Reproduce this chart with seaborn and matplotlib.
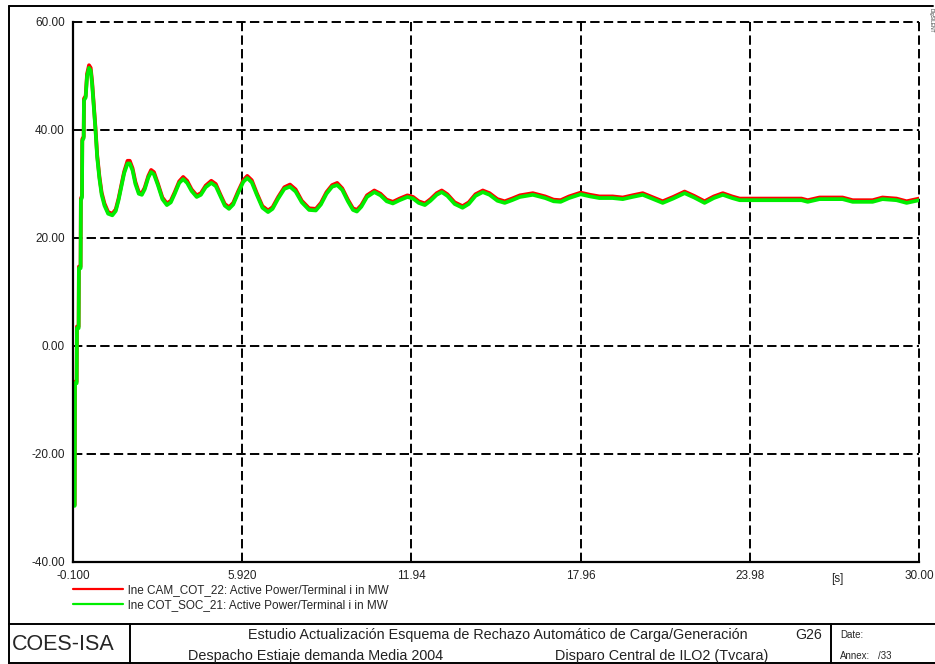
import matplotlib
matplotlib.use('Agg')
import matplotlib.pyplot as plt
from matplotlib.lines import Line2D
from matplotlib.ticker import FixedLocator
import seaborn as sns


# simulation time [s]
time_s = [
    -0.10, -0.04, -0.03, 0.03, 0.04, 0.10, 0.11, 0.17, 0.18, 0.22,
    0.23, 0.28, 0.29, 0.35, 0.40, 0.47, 0.53, 0.58, 0.63, 0.70,
    0.76, 0.84, 0.92, 1.02, 1.15, 1.30, 1.42, 1.52, 1.62, 1.72,
    1.84, 1.92, 2.02, 2.12, 2.24, 2.35, 2.45, 2.58, 2.68, 2.78,
    2.92, 3.08, 3.24, 3.38, 3.52, 3.68, 3.82, 3.96, 4.12, 4.30,
    4.45, 4.62, 4.82, 4.98, 5.14, 5.30, 5.45, 5.60, 5.78, 5.96,
    6.10, 6.26, 6.44, 6.64, 6.84, 7.00, 7.20, 7.42, 7.62, 7.82,
    8.04, 8.30, 8.54, 8.72, 8.92, 9.12, 9.30, 9.48, 9.68, 9.86,
    10.00, 10.16, 10.36, 10.62, 10.84, 11.06, 11.28, 11.52, 11.80, 12.00,
    12.20, 12.42, 12.62, 12.84, 13.02, 13.22, 13.48, 13.76, 13.98, 14.22,
    14.48, 14.72, 15.00, 15.26, 15.52, 15.80, 16.26, 16.70, 17.00, 17.25,
    17.55, 17.96, 18.30, 18.63, 19.10, 19.46, 19.80, 20.17, 20.50, 20.88,
    21.25, 21.66, 22.00, 22.37, 22.70, 23.02, 23.35, 23.62, 25.82, 26.04,
    26.46, 27.28, 27.64, 28.35, 28.70, 29.20, 29.56, 30.00,
]

# lne COT_SOC_21 active power [MW]
p_cot_soc = [
    -29.6, -29.6, -6.9, -6.9, 3.3, 3.3, 14.4, 14.4, 27.0, 27.5,
    38.0, 38.5, 45.5, 46.0, 50.0, 51.5, 51.0, 48.5, 45.0, 40.0,
    35.0, 31.0, 28.0, 26.0, 24.5, 24.2, 25.0, 27.0, 29.5, 32.0,
    33.8, 33.8, 32.5, 30.0, 28.2, 28.0, 29.0, 31.2, 32.2, 31.8,
    29.8, 27.2, 26.1, 26.6, 28.2, 30.2, 30.9, 30.2, 28.7, 27.6,
    28.0, 29.4, 30.2, 29.6, 27.8, 26.0, 25.4, 26.2, 28.4, 30.4,
    31.1, 30.3, 28.0, 25.6, 24.8, 25.4, 27.3, 29.1, 29.5, 28.6,
    26.6, 25.2, 25.1, 26.2, 28.2, 29.5, 29.8, 28.9, 26.8, 25.2,
    24.9, 25.8, 27.6, 28.5, 27.9, 26.8, 26.4, 27.0, 27.6, 27.3,
    26.5, 26.1, 26.9, 28.0, 28.5, 27.8, 26.3, 25.6, 26.3, 27.8,
    28.5, 28.0, 26.9, 26.5, 27.0, 27.6, 28.0, 27.4, 26.8, 26.7,
    27.4, 28.1, 27.7, 27.4, 27.4, 27.2, 27.6, 28.0, 27.3, 26.5,
    27.3, 28.3, 27.5, 26.5, 27.4, 28.0, 27.4, 27.0, 27.0, 26.7,
    27.2, 27.2, 26.7, 26.7, 27.2, 27.0, 26.5, 27.0,
]

# lne CAM_COT_22 active power [MW]
p_cam_cot = [
    -29.4, -29.4, -6.6, -6.6, 3.6, 3.6, 14.7, 14.7, 27.3, 27.8,
    38.3, 38.8, 45.8, 46.3, 50.4, 52.0, 51.5, 49.0, 45.4, 40.4,
    35.4, 31.4, 28.4, 26.4, 24.8, 24.5, 25.3, 27.3, 29.8, 32.3,
    34.3, 34.3, 32.9, 30.4, 28.5, 28.3, 29.3, 31.5, 32.6, 32.2,
    30.1, 27.5, 26.4, 26.9, 28.5, 30.5, 31.3, 30.6, 29.0, 27.9,
    28.3, 29.7, 30.6, 30.0, 28.1, 26.3, 25.7, 26.5, 28.7, 30.7,
    31.5, 30.7, 28.3, 25.9, 25.1, 25.7, 27.6, 29.4, 29.9, 29.0,
    26.9, 25.5, 25.4, 26.5, 28.5, 29.8, 30.2, 29.2, 27.1, 25.5,
    25.2, 26.1, 27.9, 28.8, 28.2, 27.1, 26.7, 27.3, 27.9, 27.6,
    26.8, 26.4, 27.2, 28.3, 28.8, 28.1, 26.6, 25.9, 26.6, 28.1,
    28.8, 28.3, 27.2, 26.8, 27.3, 27.9, 28.3, 27.7, 27.1, 27.0,
    27.7, 28.4, 28.0, 27.7, 27.7, 27.5, 27.9, 28.3, 27.6, 26.8,
    27.6, 28.6, 27.8, 26.8, 27.7, 28.3, 27.7, 27.3, 27.3, 27.0,
    27.5, 27.5, 27.0, 27.0, 27.5, 27.3, 26.8, 27.3,
]

x_ticks = [-0.1, 5.92, 11.94, 17.96, 23.98, 30.0]
x_tick_labels = ['-0.100', '5.920', '11.94', '17.96', '23.98', '30.00']
x_minor = [2.91, 8.93, 14.95, 20.97, 26.99]
y_ticks = [-40, -20, 0, 20, 40, 60]
y_tick_labels = ['-40.00', '-20.00', '0.00', '20.00', '40.00', '60.00']
y_minor = [-30, -10, 10, 30, 50]

labels = ['lne CAM_COT_22: Active Power/Terminal i in MW',
          'lne COT_SOC_21: Active Power/Terminal i in MW']

assert len(time_s) == len(p_cot_soc) == len(p_cam_cot)

W, H = 935, 664


def fx(px):
    return px / W


def fy(py):
    return 1 - py / H


sns.set_style('white')
plt.rcParams['font.family'] = ['Liberation Sans', 'DejaVu Sans']

fig = plt.figure(figsize=(W / 100, H / 100), dpi=100)
ax = fig.add_axes([fx(73), fy(562), fx(919) - fx(73), fy(22) - fy(562)])

sns.lineplot(x=time_s, y=p_cam_cot, color='#ff0000', lw=2.7, ax=ax,
             estimator=None, sort=False, label=labels[0])
sns.lineplot(x=time_s, y=p_cot_soc, color='#00ee00', lw=2.7, ax=ax,
             estimator=None, sort=False, label=labels[1])

ax.set_xlim(-0.1, 30.0)
ax.set_ylim(-40, 60)
ax.set_xticks(x_ticks)
ax.set_xticklabels(x_tick_labels)
ax.set_yticks(y_ticks)
ax.set_yticklabels(y_tick_labels)
ax.xaxis.set_minor_locator(FixedLocator(x_minor))
ax.yaxis.set_minor_locator(FixedLocator(y_minor))
ax.tick_params(which='major', direction='in', length=5, width=1.6,
               labelsize=8.5, pad=6, labelcolor='#222222')
ax.tick_params(which='minor', direction='in', length=3, width=1.6)
ax.set_xlabel('')
ax.set_ylabel('')

ax.grid(True, which='major', color='black', linestyle=(0, (4.8, 2.2)),
        lw=1.4)
for gl in ax.get_xgridlines() + ax.get_ygridlines():
    gl.set_clip_on(False)

for side in ['top', 'right']:
    ax.spines[side].set_visible(False)
for side in ['left', 'bottom']:
    ax.spines[side].set_color('black')
    ax.spines[side].set_linewidth(1.6)

ax.text(27.1, -42.0, '[s]', ha='center', va='top', fontsize=8.5,
        color='#222222')

leg = ax.legend(loc='upper left', bbox_to_anchor=(fx(73), fy(584)),
                bbox_transform=fig.transFigure, frameon=False, fontsize=8.5,
                handlelength=4.2, handletextpad=0.45, labelspacing=0.3,
                borderpad=0, borderaxespad=0)
for h in leg.get_lines():
    h.set_linewidth(1.6)

# page frame and title block
frame = dict(color='black', lw=1.4, transform=fig.transFigure)
fig.add_artist(Line2D([fx(9), fx(9)], [fy(6), fy(664)], **frame))
fig.add_artist(Line2D([fx(9), fx(933)], [fy(6), fy(6)], **frame))
fig.add_artist(Line2D([fx(9), fx(935)], [fy(624), fy(624)], **frame))
fig.add_artist(Line2D([fx(9), fx(935)], [fy(663), fy(663)], **frame))
fig.add_artist(Line2D([fx(130), fx(130)], [fy(624), fy(663)], **frame))
fig.add_artist(Line2D([fx(831), fx(831)], [fy(624), fy(663)], **frame))

fig.text(fx(12), fy(644), 'COES-ISA', fontsize=15.5, va='center', ha='left')
fig.text(fx(498), fy(635),
         'Estudio Actualización Esquema de Rechazo Automático de Carga/Generación',
         fontsize=10.4, va='center', ha='center', color='#222222')
fig.text(fx(822), fy(635), 'G26', fontsize=10.2, va='center', ha='right',
         color='#222222')
fig.text(fx(316), fy(656), 'Despacho Estiaje demanda Media 2004',
         fontsize=10.4, va='center', ha='center', color='#222222')
fig.text(fx(768), fy(656), 'Disparo Central de ILO2 (Tvcara)',
         fontsize=10.4, va='center', ha='right', color='#222222')
fig.text(fx(840), fy(635), 'Date:', fontsize=7, va='center', ha='left')
fig.text(fx(840), fy(656), 'Annex:', fontsize=7, va='center', ha='left')
fig.text(fx(878), fy(656), '/33', fontsize=7, va='center', ha='left')
fig.text(fx(931), fy(8), 'DIgSILENT', fontsize=3.5, rotation=270,
         va='top', ha='center', color='#333333')

fig.savefig('out.png', dpi=100)
